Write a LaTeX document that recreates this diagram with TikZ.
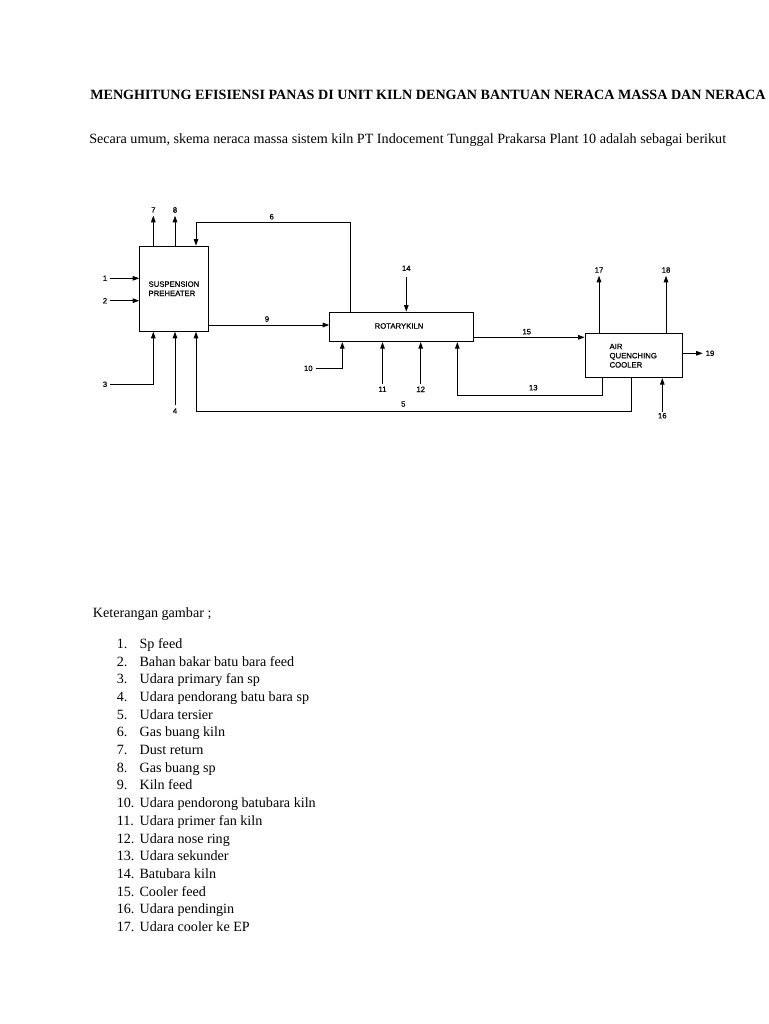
\documentclass[tikz,border=0pt]{standalone}
\usepackage{fontspec}
\setmainfont{Liberation Serif}
\newfontfamily\diagfont[FakeBold=0.6]{Liberation Sans}
\usetikzlibrary{arrows.meta,calc}
\begin{document}
\begin{tikzpicture}[x=0.75pt,y=-0.75pt,
  ln/.style={draw,line width=0.75pt},
  arr/.style={draw,line width=0.75pt,-{Triangle[length=5pt,width=3.4pt]}},
  box/.style={draw,line width=0.75pt,inner sep=0pt,anchor=north west,font=\diagfont\fontsize{5.8}{7}\selectfont},
  lab/.style={font=\diagfont\fontsize{5.8}{7}\selectfont,inner sep=2pt},
  btxt/.style={font=\diagfont\fontsize{5.8}{6.9}\selectfont,align=left,inner sep=0pt,anchor=west},
  body/.style={font=\fontsize{10.6}{12.5}\selectfont,anchor=base west,inner sep=0pt}]
\useasboundingbox[fill=white] (0,0) rectangle (768,1024);

% texts
\node[body,font=\fontsize{10.6}{12.5}\selectfont\bfseries] (title) at (90,99) {MENGHITUNG EFISIENSI PANAS DI UNIT KILN DENGAN BANTUAN NERACA MASSA DAN NERACA};
\node[body] (intro) at (89,143.3) {Secara umum, skema neraca massa sistem kiln PT Indocement Tunggal Prakarsa Plant 10 adalah sebagai berikut};
\node[body] (ket) at (92.7,617) {Keterangan gambar ;};
\foreach \i/\t in {1/Sp feed,2/Bahan bakar batu bara feed,3/Udara primary fan sp,4/Udara pendorang batu bara sp,5/Udara tersier,6/Gas buang kiln,7/Dust return,8/Gas buang sp,9/Kiln feed,10/Udara pendorong batubara kiln,11/Udara primer fan kiln,12/Udara nose ring,13/Udara sekunder,14/Batubara kiln,15/Cooler feed,16/Udara pendingin,17/Udara cooler ke EP}{
  \node[body] (num\i) at (116.5,{648.3+17.7*(\i-1)}) {\i.};
  \node[body] (item\i) at (139.3,{648.3+17.7*(\i-1)}) {\t};
}

% boxes
\node[box,minimum width=51.75pt,minimum height=63.75pt] (sp) at (139.3,245.7) {};
\node[btxt] (sptxt) at (148.3,288.7) {SUSPENSION\\PREHEATER};
\node[box,minimum width=107.55pt,minimum height=22pt] (rk) at (329.3,311.7) {};
\node[lab,inner sep=0pt] (rktxt) at (399,326) {ROTARYKILN};
\node[box,minimum width=73.2pt,minimum height=33pt] (aqc) at (584.7,333) {};
\node[btxt] (aqctxt) at (609.3,355.7) {AIR\\QUENCHING\\COOLER};

% labels
\node[lab] (n1) at (105,278.3) {1};
\node[lab] (n2) at (105,300.7) {2};
\node[lab] (n3) at (105,384.3) {3};
\node[lab] (n4) at (175,411) {4};
\node[lab] (n5) at (403.3,404) {5};
\node[lab] (n6) at (271.7,216.7) {6};
\node[lab] (n7) at (153.3,210) {7};
\node[lab] (n8) at (175,210) {8};
\node[lab] (n9) at (267,319) {9};
\node[lab] (n10) at (308.3,368.3) {10};
\node[lab] (n11) at (382.5,389.3) {11};
\node[lab] (n12) at (420.7,389.3) {12};
\node[lab] (n13) at (533.3,387.7) {13};
\node[lab] (n14) at (406.3,268.3) {14};
\node[lab] (n15) at (526.7,331.7) {15};
\node[lab] (n16) at (662.3,415.7) {16};
\node[lab] (n17) at (599,270) {17};
\node[lab] (n18) at (666,270) {18};
\node[lab] (n19) at (710,353.3) {19};

% connectors
\draw[arr] (n1.east) -- (n1.east -| sp.west);
\draw[arr] (n2.east) -- (n2.east -| sp.west);
\draw[arr] (n3.east) -| ($(sp.south west)+(14,0)$);
\draw[arr] (n4.north) -- (n4 |- sp.south);
\draw[arr] (n7 |- sp.north) -- (n7.south);
\draw[arr] (n8 |- sp.north) -- (n8.south);
\draw[arr] ($(rk.north west)+(21,0)$) |- ($(sp.north west)+(56.7,-23.4)$) -- ($(sp.north west)+(56.7,0)$);
\draw[arr] ($(aqc.south west)+(46.3,0)$) |- ($(sp.south west)+(56.7,80)$) -- ($(sp.south west)+(56.7,0)$);
\draw[arr] ($(sp.north east)+(0,79.3)$) coordinate (p9) -- (p9 -| rk.west);
\draw[arr] (n10.east) -| ($(rk.south west)+(13,0)$);
\draw[arr] (n11.north) -- (n11 |- rk.south);
\draw[arr] (n12.north) -- (n12 |- rk.south);
\draw[arr] ($(aqc.south west)+(18,0)$) |- ($(rk.south west)+(128,53)$) -- ($(rk.south west)+(128,0)$);
\draw[arr] ([yshift=-2.2pt]n14.south) -- (n14 |- rk.north);
\draw[arr] ($(rk.north east)+(0,25.6)$) coordinate (p15) -- (p15 -| aqc.west);
\draw[arr] ([yshift=-1.5pt]n16.north) -- (n16 |- aqc.south);
\draw[arr] (n17 |- aqc.north) -- (n17.south);
\draw[arr] (n18 |- aqc.north) -- (n18.south);
\draw[arr] (n19.west -| aqc.east) -- (n19.west);
\end{tikzpicture}
\end{document}
